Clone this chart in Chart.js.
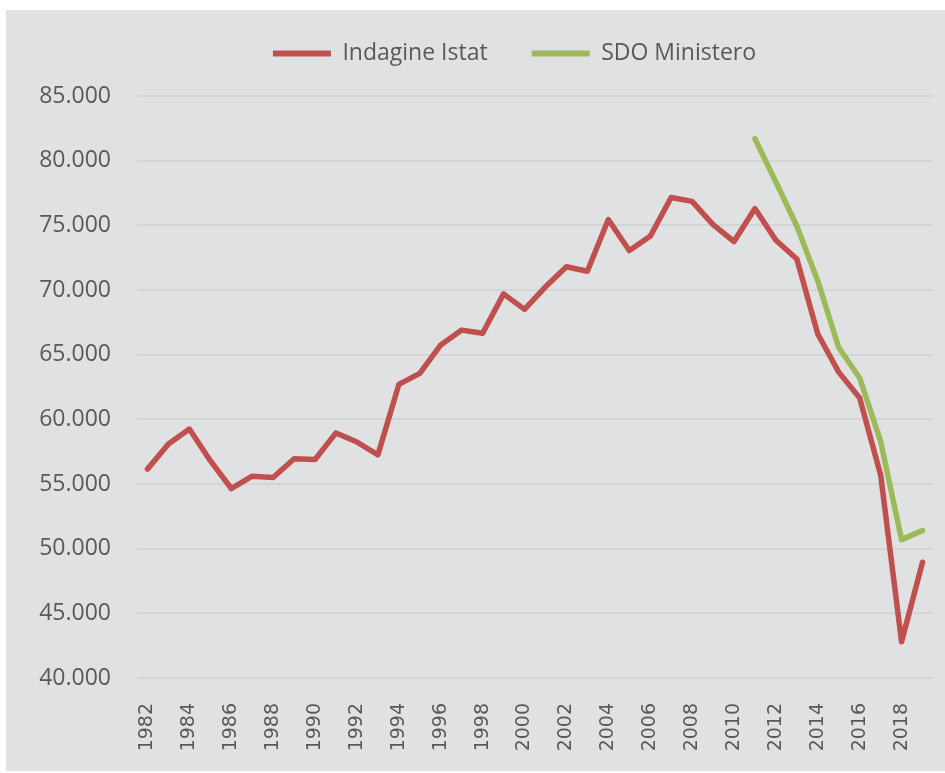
<!DOCTYPE html>
<html>
<head>
<meta charset="utf-8">
<script src="https://cdn.jsdelivr.net/npm/chart.js@4.4.1/dist/chart.umd.min.js"></script>
<style>
  html, body { margin: 0; padding: 0; background: #ffffff; }
  #wrap { position: absolute; left: 6px; top: 10px; width: 939px; height: 761px; background: #E0E1E3; }
  canvas { display: block; }
</style>
</head>
<body>
<div id="wrap"><canvas id="c" width="939" height="761"></canvas></div>
<script>
const years = [1982,1983,1984,1985,1986,1987,1988,1989,1990,1991,1992,1993,1994,1995,1996,1997,1998,1999,2000,2001,2002,2003,2004,2005,2006,2007,2008,2009,2010,2011,2012,2013,2014,2015,2016,2017,2018,2019];
const istat = [56150,58100,59250,56800,54650,55600,55500,56950,56900,58950,58250,57250,62700,63550,65750,66900,66650,69700,68500,70250,71800,71450,75450,73050,74150,77150,76850,75050,73750,76300,73850,72400,66600,63650,61650,55700,42800,48950];
const sdo = [null,null,null,null,null,null,null,null,null,null,null,null,null,null,null,null,null,null,null,null,null,null,null,null,null,null,null,null,null,81700,78350,74950,70700,65550,63200,58300,50700,51400];
const seriesNames = ['Indagine Istat','SDO Ministero'];
const yMin = 40000, yMax = 85000, yStep = 5000;

const fmt = n => String(n).replace(/\B(?=(\d{3})+(?!\d))/g, '.');

const legendTweak = {
  id: 'legendTweak',
  beforeInit(chart) {
    const lg = chart.legend;
    const origFit = lg.fit;
    lg.fit = function() { origFit.call(this); this.height = 86; };
    const origDraw = lg.draw;
    lg.draw = function() {
      const ctx = this.ctx;
      ctx.save();
      ctx.translate(45, -12);
      origDraw.call(this);
      ctx.restore();
    };
  }
};

new Chart(document.getElementById('c'), {
  type: 'line',
  data: {
    labels: years,
    datasets: [
      { label: seriesNames[0], data: istat, borderColor: '#C0504D', backgroundColor: '#C0504D', borderWidth: 5.5, pointRadius: 0, tension: 0, borderCapStyle: 'round', borderJoinStyle: 'round' },
      { label: seriesNames[1], data: sdo, borderColor: '#9BBB59', backgroundColor: '#9BBB59', borderWidth: 5.5, pointRadius: 0, tension: 0, borderCapStyle: 'round', borderJoinStyle: 'round', spanGaps: false }
    ]
  },
  options: {
    responsive: false,
    animation: false,
    layout: { padding: { left: 0, right: 12, top: 0, bottom: 0 } },
    plugins: {
      tooltip: { enabled: false },
      legend: {
        position: 'top',
        labels: {
          font: { family: 'Open Sans', size: 23 },
          color: '#595959',
          boxWidth: 58,
          boxHeight: 6,
          padding: 44,
          generateLabels(chart) {
            return chart.data.datasets.map((d, i) => ({
              text: d.label, fillStyle: d.borderColor, strokeStyle: d.borderColor,
              lineWidth: 0, hidden: false, datasetIndex: i, fontColor: '#595959'
            }));
          }
        }
      }
    },
    scales: {
      x: {
        offset: true,
        grid: { display: false },
        border: { display: false },
        afterFit(s) { s.height = 93; s.paddingLeft = 0; s.paddingRight = 0; },
        ticks: {
          autoSkip: false,
          maxRotation: 90, minRotation: 90,
          padding: 17,
          font: { family: 'DejaVu Sans', size: 19 },
          color: '#595959',
          callback(v, i) { return i % 2 === 0 ? String(years[i]) : ''; }
        }
      },
      y: {
        min: yMin, max: yMax,
        afterFit(s) { s.width = 131; },
        grid: { color: '#D3D4D6', lineWidth: 2, drawTicks: false },
        border: { display: false },
        ticks: {
          stepSize: yStep,
          padding: 26,
          font: { family: 'Open Sans', size: 23 },
          color: '#595959',
          callback: v => fmt(v)
        }
      }
    }
  },
  plugins: [legendTweak]
});
</script>
</body>
</html>
